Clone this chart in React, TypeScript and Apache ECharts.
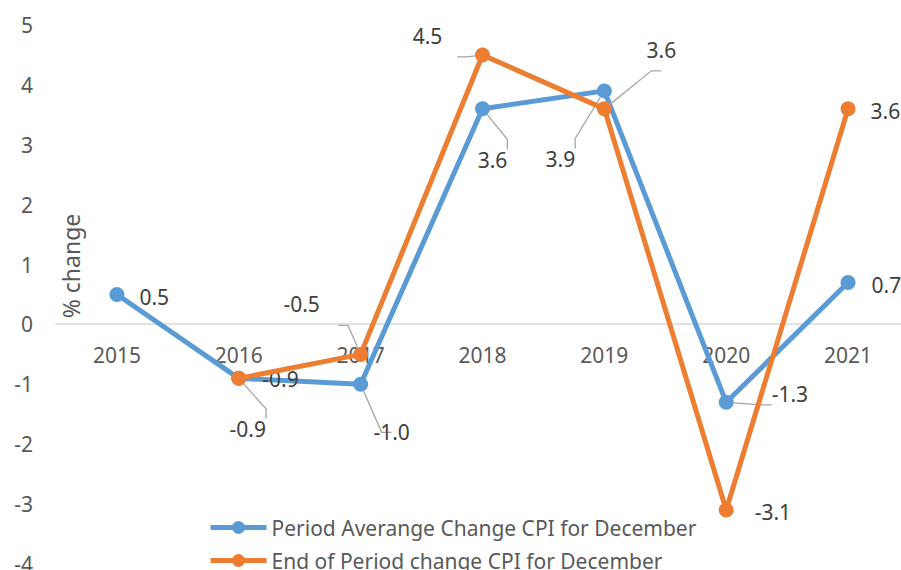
import React, { useEffect, useRef } from "react";
import * as echarts from "echarts";

const years = ["2015", "2016", "2017", "2018", "2019", "2020", "2021"];
const periodAverage: (number | null)[] = [0.5, -0.9, -1.0, 3.6, 3.9, -1.3, 0.7];
const endOfPeriod: (number | null)[] = [null, -0.9, -0.5, 4.5, 3.6, -3.1, 3.6];
const seriesNames = [
  "Period Averange Change CPI for December",
  "End of Period change CPI for December",
];

// label placement (style only): [position, offsetX, offsetY, leaderLine]
type Place = [string, number, number, boolean];
const bluePlace: Place[] = [
  ["right", 10, 2, false],
  ["right", 11, 1, false],
  ["bottom", 31, 25, true],
  ["bottom", 10, 28, true],
  ["bottom", -44, 45, true],
  ["right", 33, -8, true],
  ["right", 11, 2, false],
];
const orangePlace: Place[] = [
  ["right", 0, 0, false],
  ["bottom", 9, 28, true],
  ["top", -59, -27, true],
  ["top", -55, 4, true],
  ["top", 57, -36, true],
  ["right", 16, 2, false],
  ["right", 10, 2, false],
];

const FONT = "Noto Sans";
const FS = 21;
const LABEL_COLOR = "#404040";
const AXIS_COLOR = "#595959";

function buildData(values: (number | null)[], places: Place[]) {
  return values.map((v, i) => {
    const [pos, dx, dy, line] = places[i];
    return {
      value: v,
      label: {
        show: v !== null,
        position: pos,
        offset: [dx, dy],
        formatter: (p: any) => Number(p.value).toFixed(1),
      },
      labelLine: {
        show: line,
        length2: 10,
        lineStyle: { color: "#A6A6A6", width: 1.3 },
      },
    };
  });
}

export default function App() {
  const ref = useRef<HTMLDivElement>(null);
  useEffect(() => {
    if (!ref.current) return;
    const chart = echarts.init(ref.current, undefined, { renderer: "svg" });
    const labelStyle = {
      fontFamily: FONT,
      fontSize: FS,
      color: LABEL_COLOR,
    };
    chart.setOption({
      animation: false,
      textStyle: { fontFamily: FONT },
      grid: {
        left: 56,
        right: -8,
        top: 25,
        bottom: 6,
        containLabel: false,
        outerBoundsMode: "none",
      },
      xAxis: {
        type: "category",
        data: years,
        boundaryGap: true,
        position: "bottom",
        offset: -240,
        axisLine: { onZero: false, lineStyle: { color: "#D9D9D9", width: 1.5 } },
        axisTick: { show: false },
        axisLabel: { margin: 20, fontFamily: FONT, fontSize: FS, color: AXIS_COLOR },
        z: 1,
      },
      yAxis: {
        type: "value",
        min: -4,
        max: 5,
        interval: 1,
        splitLine: { show: false },
        axisLine: { show: false },
        axisTick: { show: false },
        axisLabel: { margin: 23, fontFamily: FONT, fontSize: FS, color: AXIS_COLOR },
      },
      legend: {
        orient: "vertical",
        left: 208,
        top: 517,
        height: 120,
        width: 600,
        padding: 0,
        itemWidth: 56,
        itemHeight: 16,
        itemGap: 12,
        lineStyle: { width: 5 },
        textStyle: { fontFamily: FONT, fontSize: FS, color: AXIS_COLOR },
        data: seriesNames,
      },
      graphic: [
        {
          type: "text",
          x: 71,
          y: 266,
          rotation: Math.PI / 2,
          style: {
            text: "% change",
            fontFamily: FONT,
            fontSize: 23,
            fill: AXIS_COLOR,
            align: "center",
            verticalAlign: "middle",
          },
        },
      ],
      series: [
        {
          name: seriesNames[0],
          type: "line",
          data: buildData(periodAverage, bluePlace),
          symbol: "circle",
          symbolSize: 15,
          lineStyle: { color: "#5B9BD5", width: 5 },
          itemStyle: { color: "#5B9BD5" },
          label: labelStyle,
          labelLine: { show: false },
          z: 2,
        },
        {
          name: seriesNames[1],
          type: "line",
          data: buildData(endOfPeriod, orangePlace),
          symbol: "circle",
          symbolSize: 15,
          lineStyle: { color: "#ED7D31", width: 5 },
          itemStyle: { color: "#ED7D31" },
          label: labelStyle,
          labelLine: { show: false },
          z: 3,
        },
      ],
    });
    return () => chart.dispose();
  }, []);
  return (
    <div
      ref={ref}
      style={{ position: "fixed", left: 0, top: 0, width: 901, height: 570, background: "#fff" }}
    />
  );
}
